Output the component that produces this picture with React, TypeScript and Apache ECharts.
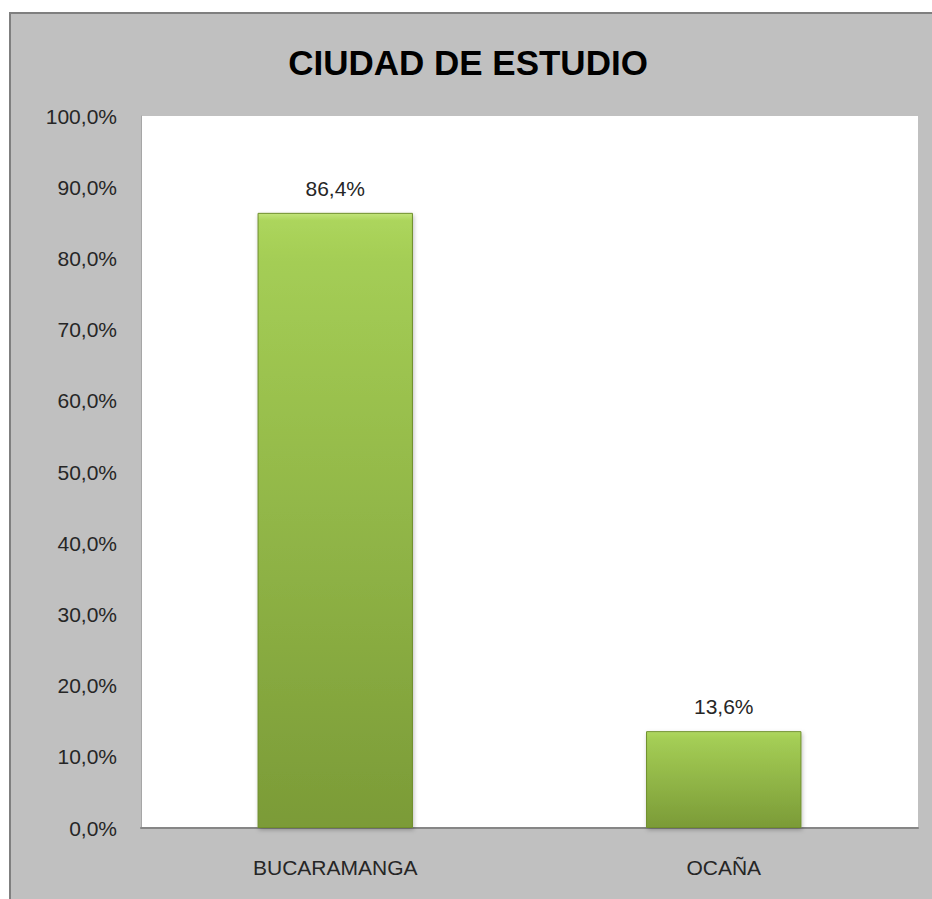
import React, { useEffect, useRef } from "react";
import * as echarts from "echarts";

const categories = ["BUCARAMANGA", "OCAÑA"];
const values = [0.864, 0.136];
const titleText = "CIUDAD DE ESTUDIO";

const fmt = (v: number) => (v * 100).toFixed(1).replace(".", ",") + "%";

export default function App() {
  const ref = useRef<HTMLDivElement>(null);
  useEffect(() => {
    const chart = echarts.init(ref.current!, null, { renderer: "svg" });
    const font = "'Liberation Sans', Arial, sans-serif";
    chart.setOption({
      animation: false,
      backgroundColor: "#ffffff",
      graphic: [
        {
          type: "rect",
          z: -10,
          silent: true,
          shape: { x: 10, y: 13, width: 940, height: 900 },
          style: { fill: "#c0c0c0", stroke: "#7f7f7f", lineWidth: 2 },
        },
      ],
      title: {
        text: titleText,
        left: 463,
        top: 40,
        textAlign: "center",
        textStyle: { fontFamily: font, fontWeight: "bold", fontSize: 35, color: "#000" },
      },
      grid: {
        left: 141,
        right: 14,
        top: 116,
        bottom: 71,
        show: true,
        backgroundColor: "#ffffff",
        borderWidth: 0,
        containLabel: false,
      },
      xAxis: {
        type: "category",
        data: categories,
        axisLine: { show: true, lineStyle: { color: "#868686", width: 2 } },
        axisTick: { show: false },
        axisLabel: { margin: 29, fontFamily: font, fontSize: 21, color: "#262626" },
      },
      yAxis: {
        type: "value",
        min: 0,
        max: 1,
        interval: 0.1,
        splitLine: { show: false },
        axisLine: { show: true, lineStyle: { color: "#a6a6a6", width: 1 } },
        axisTick: { show: false },
        axisLabel: {
          margin: 24,
          fontFamily: font,
          fontSize: 21,
          color: "#262626",
          formatter: (v: number) => fmt(v),
        },
      },
      series: [
        {
          type: "bar",
          data: values,
          barWidth: "40%",
          itemStyle: {
            color: new echarts.graphic.LinearGradient(0, 0, 0, 1, [
              { offset: 0, color: "#c2e47a" },
              { offset: 0.012, color: "#acd55c" },
              { offset: 0.08, color: "#a4cd55" },
              { offset: 1, color: "#7b9b37" },
            ]),
            borderColor: "#6f8f2c",
            borderWidth: 1,
            shadowColor: "rgba(0,0,0,0.25)",
            shadowBlur: 4,
            shadowOffsetX: 1,
            shadowOffsetY: 2,
          },
          label: {
            show: true,
            position: "top",
            distance: 14,
            fontFamily: font,
            fontSize: 21,
            color: "#262626",
            formatter: (p: any) => fmt(p.value),
          },
        },
      ],
    });
    return () => chart.dispose();
  }, []);
  return (
    <div
      ref={ref}
      style={{ position: "fixed", left: 0, top: 0, width: 932, height: 899 }}
    />
  );
}
